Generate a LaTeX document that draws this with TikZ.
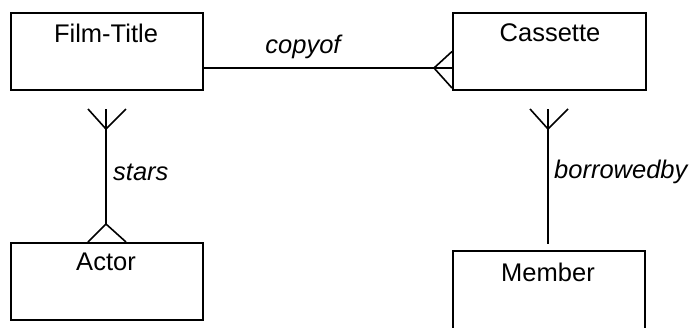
\documentclass[tikz,border=0pt]{standalone}
\usepackage{fontspec}
\setmainfont{Liberation Sans}
\begin{document}
\begin{tikzpicture}[x=1pt,y=-1pt,
  entity/.style={draw,line width=1.6pt,minimum width=192pt,minimum height=77pt,inner sep=0pt,anchor=north west},
  etext/.style={font=\fontsize{25.5}{30}\selectfont,inner sep=0pt},
  rtext/.style={font=\fontsize{25.5}{30}\selectfont\itshape,inner sep=0pt},
  conn/.style={line width=1.6pt}]
\useasboundingbox (0,0) rectangle (691,327);
\node[entity] (film) at (10,12) {};
\node[entity,minimum width=193pt] (cass) at (452,12) {};
\node[entity] (actor) at (10,242) {};
\node[entity,minimum height=90pt] (member) at (452,250) {};
\node[etext] (filmT) at (106,33) {Film-Title};
\node[etext] (cassT) at (550,33) {Cassette};
\node[etext] (actorT) at (106,262) {Actor};
\node[etext] (memberT) at (548,272) {Member};
% copyof
\coordinate (c1) at (202,68);
\coordinate (c2) at (452,68);
\coordinate (c3) at (434,68);
\draw[conn] (c1) -- (c2);
\draw[conn] (452,51.5) -- (c3) -- (452,88);
\node[rtext] (copyof) at (303,47) {copyof};
% stars
\coordinate (s1) at (106,109);
\coordinate (s2) at (106,129);
\coordinate (s3) at (106,224);
\draw[conn] (s1) -- (s3);
\draw[conn] (88,109) -- (s2) -- (126,109);
\draw[conn] (88,242) -- (s3) -- (126,242);
\node[rtext,anchor=west] (stars) at (113,172) {stars};
% borrowedby
\coordinate (b1) at (548,109);
\coordinate (b2) at (548,129);
\coordinate (b3) at (548,244);
\draw[conn] (b1) -- (b3);
\draw[conn] (530,109) -- (b2) -- (568,109);
\node[rtext,anchor=west] (borrowedby) at (554,172) {borrowedby};
\end{tikzpicture}
\end{document}
